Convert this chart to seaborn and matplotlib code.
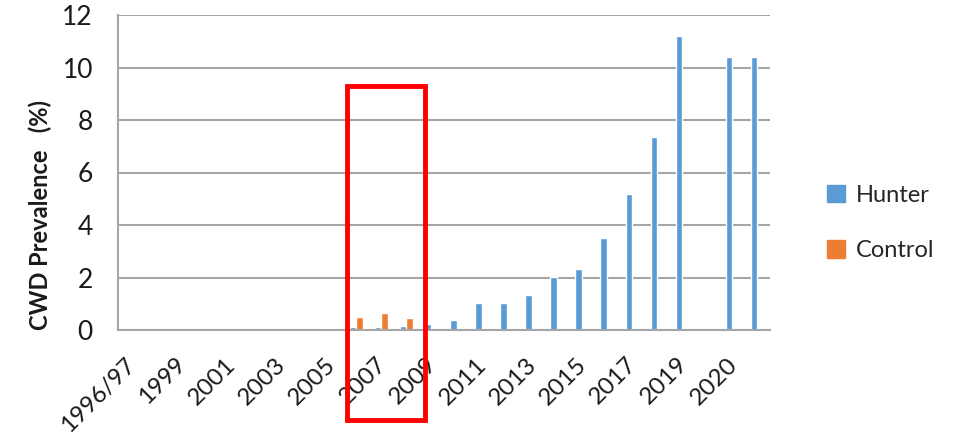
import numpy as np
import pandas as pd
import matplotlib
matplotlib.use("Agg")
import matplotlib.pyplot as plt
import matplotlib.patches as mpatches
import matplotlib.transforms as mtransforms
import seaborn as sns

categories = ["1996/97", "1997/98", "1999", "2000", "2001", "2002", "2003", "2004",
              "2005", "2006", "2007", "2008", "2009", "2010", "2011", "2012",
              "2013", "2014", "2015", "2016", "2017", "2018", "2019", "2019/20",
              "2020", "2021"]
hunter = [np.nan, np.nan, np.nan, np.nan, np.nan, np.nan, np.nan, np.nan,
          0.06, 0.12, 0.12, 0.15, 0.24, 0.38, 1.04, 1.03,
          1.33, 2.03, 2.33, 3.49, 5.18, 7.37, 11.2, np.nan,
          10.4, 10.4]
control = [np.nan] * 9 + [0.5, 0.64, 0.47] + [np.nan] * 14
series_names = ["Hunter", "Control"]
colors = ["#5B9BD5", "#ED7D31"]
yticks = [0, 2, 4, 6, 8, 10, 12]

df = pd.concat([
    pd.DataFrame({"Year": categories, "Value": hunter, "Series": "Hunter"}),
    pd.DataFrame({"Year": categories, "Value": control, "Series": "Control"}),
]).dropna()

sns.set_theme(style="white")
plt.rcParams["font.family"] = ["Lato", "DejaVu Sans"]

W, H = 958, 437
fig = plt.figure(figsize=(W / 100, H / 100), dpi=100)
ax = fig.add_axes([118 / W, 1 - 330 / H, (770 - 118) / W, (330 - 15) / H])

sns.barplot(data=df, x="Year", y="Value", hue="Series", order=categories,
            hue_order=series_names, palette=colors, width=0.52, ax=ax,
            errorbar=None, saturation=1, legend=False)

ax.set_ylim(0, 12)
ax.set_xlim(-0.5, len(categories) - 0.5)
ax.set_yticks(yticks)
ax.set_yticklabels([str(t) for t in yticks], fontsize=19, color="#1a1a1a")
ax.yaxis.grid(True, color="#A6A6A6", linewidth=1.5)
ax.set_axisbelow(True)
ax.tick_params(axis="y", length=0, pad=18)

ticks = list(range(0, len(categories), 2))
ax.set_xticks(ticks)
ax.set_xticklabels([categories[i] for i in ticks], rotation=45, ha="right", va="top",
                   rotation_mode="anchor", fontsize=17.5, color="#1a1a1a")
ax.tick_params(axis="x", length=0, pad=17)
offset = mtransforms.ScaledTranslation(-6 / 100, 0, fig.dpi_scale_trans)
for lbl in ax.get_xticklabels():
    lbl.set_transform(lbl.get_transform() + offset)

for s in ["top", "right"]:
    ax.spines[s].set_visible(False)
for s in ["left", "bottom"]:
    ax.spines[s].set_color("#A6A6A6")
    ax.spines[s].set_linewidth(1.5)

ax.set_xlabel("")
ax.set_ylabel("CWD Prevalence   (%)", fontsize=17, fontweight="bold",
              color="#1a1a1a")
ax.yaxis.set_label_coords(52 / W, 0.5 + 3 / H, transform=fig.transFigure)

handles = [mpatches.Patch(color=c, label=n) for c, n in zip(colors, series_names)]
fig.legend(handles=handles, loc="center left", bbox_to_anchor=(806 / W, 1 - 223 / H),
           frameon=False, fontsize=17, handlelength=0.75, handleheight=0.75,
           handletextpad=0.45, labelspacing=1.45)

rect = mpatches.Rectangle((347 / W, 1 - 420 / H), (425 - 347) / W, (420 - 86) / H,
                          transform=fig.transFigure, fill=False, edgecolor="red",
                          linewidth=3.5, zorder=10)
fig.patches.append(rect)

fig.savefig("out.png", dpi=100)
